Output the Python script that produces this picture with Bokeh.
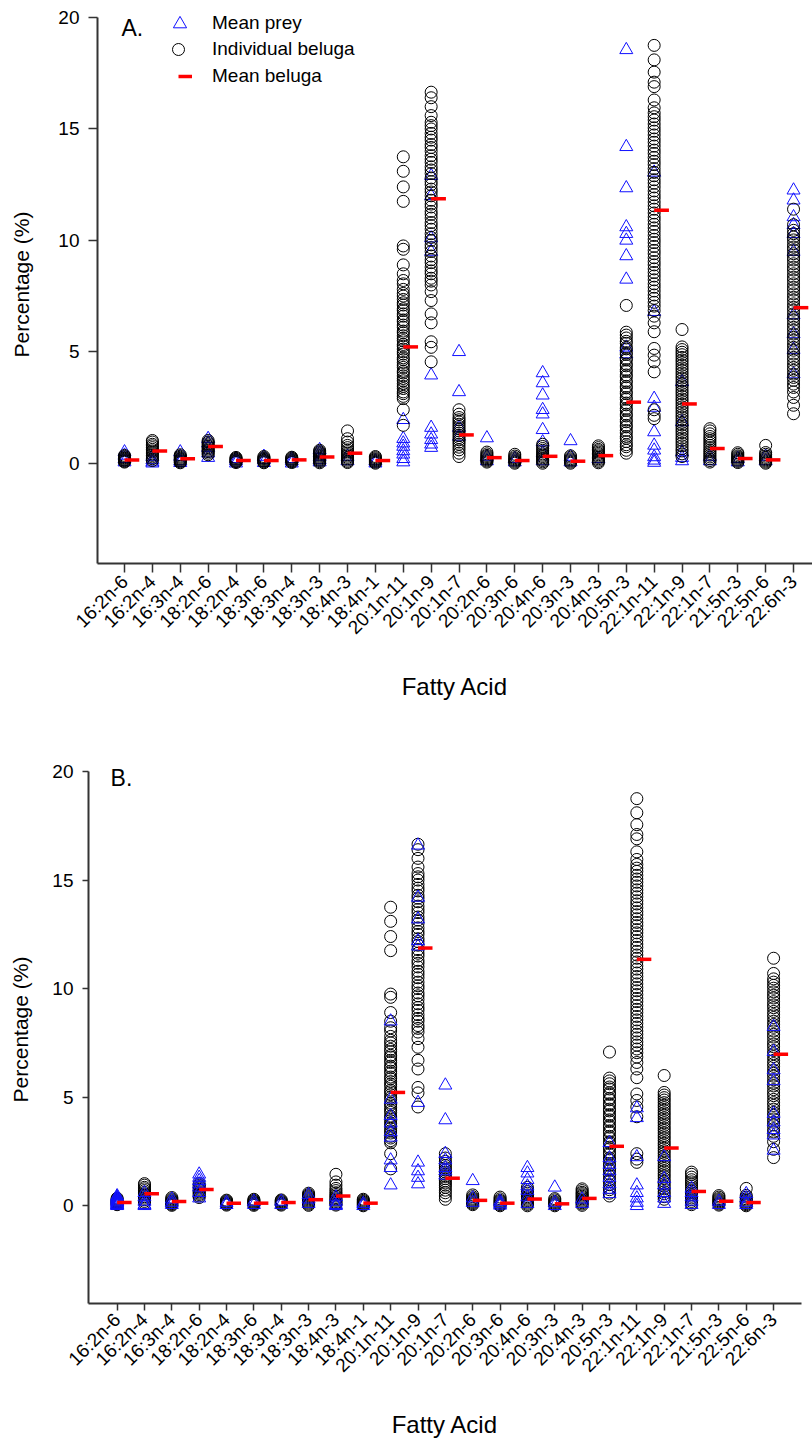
import math
from bokeh.plotting import figure
from bokeh.models import ColumnDataSource, FixedTicker, Range1d, Legend, LegendItem, Label
from bokeh.layouts import column, row
from bokeh.embed import file_html
from bokeh.resources import INLINE

# ---------------- data ----------------
categories = ["16:2n-6", "16:2n-4", "16:3n-4", "18:2n-6", "18:2n-4", "18:3n-6", "18:3n-4",
              "18:3n-3", "18:4n-3", "18:4n-1", "20:1n-11", "20:1n-9", "20:1n-7", "20:2n-6",
              "20:3n-6", "20:4n-6", "20:3n-3", "20:4n-3", "20:5n-3", "22:1n-11", "22:1n-9",
              "22:1n-7", "21:5n-3", "22:5n-6", "22:6n-3"]

mean_beluga = [0.15, 0.55, 0.2, 0.75, 0.12, 0.12, 0.15, 0.28, 0.45, 0.12, 5.22, 11.87, 1.27,
               0.25, 0.12, 0.31, 0.09, 0.34, 2.74, 11.35, 2.66, 0.66, 0.21, 0.15, 6.98]

# individual beluga values (same animals in both panels)
b_16_2n6 = [0.05, 0.08, 0.12, 0.15, 0.18, 0.22, 0.25, 0.3, 0.35]
b_16_2n4 = [0.12, 0.2, 0.28, 0.35, 0.42, 0.5, 0.55, 0.62, 0.7, 0.78, 0.85, 0.95, 1.02]
b_16_3n4 = [0.02, 0.06, 0.1, 0.14, 0.18, 0.22, 0.27, 0.32, 0.38]
b_18_2n6 = [0.38, 0.45, 0.52, 0.58, 0.64, 0.7, 0.76, 0.82, 0.88, 0.95, 1.02]
b_18_2n4 = [0.03, 0.07, 0.1, 0.14, 0.18, 0.22, 0.26]
b_18_3n6 = [0.02, 0.06, 0.1, 0.13, 0.17, 0.21, 0.25, 0.3]
b_18_3n4 = [0.03, 0.07, 0.11, 0.15, 0.19, 0.23, 0.27]
b_18_3n3 = [0.02, 0.07, 0.12, 0.17, 0.22, 0.27, 0.32, 0.37, 0.42, 0.47, 0.52, 0.58]
b_18_4n3 = [0.03, 0.08, 0.14, 0.2, 0.26, 0.32, 0.38, 0.45, 0.52, 0.6, 0.7, 0.8, 0.95, 1.1, 1.45]
b_18_4n1 = [0.0, 0.04, 0.08, 0.12, 0.16, 0.2, 0.25, 0.3]
b_20_1n11 = [1.7, 2.4, 2.9, 3.0, 3.12, 3.2, 3.35, 3.45, 3.57, 3.7, 3.8, 3.92, 4.05, 4.13, 4.3,
             4.4, 4.52, 4.65, 4.73, 4.9, 5.0, 5.12, 5.25, 5.33, 5.5, 5.6, 5.72, 5.85, 5.93, 6.1,
             6.2, 6.35, 6.43, 6.6, 6.7, 6.85, 6.93, 7.1, 7.2, 7.35, 7.5, 7.62, 7.8, 8.05, 8.2,
             8.5, 8.9, 9.6, 9.75, 11.75, 12.4, 13.1, 13.75]
b_20_1n9 = [4.55, 5.2, 5.45, 6.3, 6.7, 7.3, 7.7, 8.0, 8.17, 8.3, 8.5, 8.63, 8.8, 9.0, 9.13,
            9.3, 9.5, 9.67, 9.8, 10.0, 10.13, 10.3, 10.5, 10.66, 10.8, 11.0, 11.17, 11.3, 11.5,
            11.63, 11.8, 12.0, 12.17, 12.3, 12.5, 12.63, 12.8, 13.0, 13.16, 13.3, 13.5, 13.64,
            13.8, 14.0, 14.17, 14.3, 14.5, 14.63, 14.8, 15.0, 15.15, 15.3, 15.6, 16.0, 16.4, 16.65]
b_20_1n7 = [0.3, 0.45, 0.6, 0.72, 0.85, 0.95, 1.05, 1.15, 1.25, 1.35, 1.45, 1.55, 1.65, 1.75,
            1.85, 1.95, 2.05, 2.2, 2.4]
b_20_2n6 = [0.05, 0.1, 0.15, 0.2, 0.25, 0.3, 0.35, 0.42, 0.5]
b_20_3n6 = [0.0, 0.05, 0.1, 0.15, 0.2, 0.25, 0.32, 0.4]
b_20_4n6 = [0.0, 0.06, 0.12, 0.18, 0.24, 0.3, 0.36, 0.42, 0.5, 0.58, 0.66, 0.75, 0.85]
b_20_3n3 = [0.0, 0.05, 0.1, 0.15, 0.2, 0.27, 0.33]
b_20_4n3 = [0.02, 0.08, 0.14, 0.2, 0.26, 0.32, 0.38, 0.44, 0.5, 0.56, 0.62, 0.7, 0.78]
b_20_5n3 = [0.45, 0.58, 0.74, 0.83, 0.97, 1.12, 1.2, 1.36, 1.47, 1.63, 1.7, 1.86, 1.95, 2.12,
            2.2, 2.37, 2.46, 2.62, 2.7, 2.87, 2.95, 3.12, 3.2, 3.38, 3.45, 3.62, 3.7, 3.88,
            3.96, 4.12, 4.2, 4.37, 4.45, 4.63, 4.7, 4.88, 4.95, 5.13, 5.2, 5.38, 5.47, 5.62,
            5.75, 5.88, 7.08]
b_22_1n11 = [2.0, 2.15, 2.4, 4.1, 4.55, 4.85, 5.15, 5.9, 6.3, 6.6, 6.85, 7.05, 7.22, 7.4, 7.55,
             7.73, 7.9, 8.05, 8.23, 8.4, 8.56, 8.72, 8.9, 9.05, 9.22, 9.4, 9.55, 9.73, 9.9,
             10.05, 10.22, 10.4, 10.56, 10.72, 10.9, 11.05, 11.23, 11.4, 11.55, 11.72, 11.9,
             12.05, 12.22, 12.4, 12.57, 12.72, 12.9, 13.05, 13.22, 13.4, 13.55, 13.72, 13.9,
             14.05, 14.23, 14.4, 14.55, 14.73, 14.9, 15.05, 15.22, 15.4, 15.55, 15.72, 15.95,
             16.3, 16.9, 17.1, 17.55, 18.1, 18.75]
b_22_1n9 = [0.3, 0.42, 0.55, 0.65, 0.78, 0.9, 1.02, 1.13, 1.25, 1.37, 1.48, 1.6, 1.72, 1.83,
            1.95, 2.07, 2.18, 2.3, 2.42, 2.53, 2.65, 2.77, 2.88, 3.0, 3.12, 3.23, 3.35, 3.47,
            3.58, 3.7, 3.82, 3.93, 4.05, 4.17, 4.28, 4.4, 4.52, 4.63, 4.75, 4.87, 4.98, 5.1,
            5.22, 6.0]
b_22_1n7 = [0.05, 0.12, 0.2, 0.28, 0.36, 0.44, 0.52, 0.6, 0.7, 0.8, 0.9, 1.0, 1.1, 1.2, 1.32,
            1.45, 1.55]
b_21_5n3 = [0.03, 0.08, 0.13, 0.18, 0.23, 0.28, 0.33, 0.4, 0.47]
b_22_5n6 = [0.0, 0.05, 0.1, 0.15, 0.2, 0.26, 0.32, 0.4, 0.48, 0.8]
b_22_6n3 = [2.22, 2.6, 2.95, 3.2, 3.4, 3.55, 3.72, 3.85, 4.0, 4.17, 4.3, 4.45, 4.62, 4.75, 4.9,
            5.07, 5.2, 5.35, 5.52, 5.65, 5.8, 5.97, 6.1, 6.25, 6.42, 6.55, 6.7, 6.87, 7.0,
            7.15, 7.32, 7.45, 7.6, 7.77, 7.9, 8.05, 8.22, 8.35, 8.5, 8.67, 8.8, 8.95, 9.12,
            9.25, 9.4, 9.57, 9.7, 9.85, 10.02, 10.15, 10.3, 10.45, 10.7, 11.4]

# mean prey, panel A
pa_16_2n6 = [0.5, 0.35, 0.2, 0.05]
pa_16_2n4 = [0.3, 0.15, 0.05, 0.0]
pa_16_3n4 = [0.5, 0.3, 0.1, 0.02]
pa_18_2n6 = [1.1, 0.9, 0.7, 0.45, 0.25]
pa_18_2n4 = [0.2, 0.1, 0.0]
pa_18_3n6 = [0.3, 0.15, 0.02]
pa_18_3n4 = [0.2, 0.1, 0.0]
pa_18_3n3 = [0.6, 0.45, 0.3, 0.15, 0.05]
pa_18_4n3 = [0.3, 0.1]
pa_18_4n1 = [0.1, 0.0]
pa_20_1n11 = [1.95, 1.1, 0.9, 0.75, 0.55, 0.4, 0.2, 0.05]
pa_20_1n9 = [12.9, 12.0, 10.1, 9.5, 3.95, 1.6, 1.3, 1.05, 0.85, 0.7]
pa_20_1n7 = [5.0, 3.2, 1.6, 1.2]
pa_20_2n6 = [1.13, 0.3, 0.1]
pa_20_3n6 = [0.2, 0.05]
pa_20_4n6 = [4.05, 3.6, 3.05, 2.4, 2.2, 1.5, 0.95, 0.45, 0.1]
pa_20_3n3 = [1.0, 0.3, 0.05]
pa_20_4n3 = [0.2]
pa_20_5n3 = [18.55, 14.2, 12.35, 10.6, 10.3, 10.0, 9.3, 8.25, 5.2, 4.9]
pa_22_1n11 = [13.05, 6.8, 2.9, 2.5, 1.4, 0.8, 0.58, 0.28, 0.13, 0.03]
pa_22_1n9 = [3.65, 1.85, 0.5, 0.25, 0.1]
pa_22_1n7 = [0.3, 0.1]
pa_21_5n3 = [0.2, 0.05]
pa_22_5n6 = [0.3, 0.1]
pa_22_6n3 = [12.25, 11.8, 11.05, 10.7, 10.3, 9.5, 6.65, 5.8, 5.1, 4.0]

# mean prey, panel B
pb_16_2n6 = [0.45, 0.4, 0.35, 0.3, 0.25, 0.2, 0.16, 0.12, 0.08, 0.05, 0.02, 0.0]
pb_16_2n4 = [0.6, 0.4, 0.2, 0.05, 0.0]
pb_16_3n4 = [0.3, 0.15, 0.05]
pb_18_2n6 = [1.45, 1.3, 1.15, 1.0, 0.85, 0.6, 0.35]
pb_18_2n4 = [0.15, 0.05]
pb_18_3n6 = [0.2, 0.05]
pb_18_3n4 = [0.2, 0.05]
pb_18_3n3 = [0.5, 0.3, 0.1]
pb_18_4n3 = [0.4, 0.2, 0.05, 0.0]
pb_18_4n1 = [0.1, 0.0]
pb_20_1n11 = [8.5, 4.9, 4.15, 3.8, 3.4, 3.15, 2.1, 1.75, 0.95]
pb_20_1n9 = [16.6, 14.2, 13.2, 12.2, 11.95, 4.75, 2.0, 1.6, 1.3, 1.0]
pb_20_1n7 = [5.55, 3.95, 2.4, 2.1, 1.75, 1.6, 1.4]
pb_20_2n6 = [1.15, 0.35, 0.15]
pb_20_3n6 = [0.2, 0.1, 0.02]
pb_20_4n6 = [1.75, 1.5, 1.2, 0.9, 0.7, 0.4, 0.1]
pb_20_3n3 = [0.85, 0.15, 0.0]
pb_20_4n3 = [0.3, 0.1]
pb_20_5n3 = [2.9, 2.2, 1.9, 1.6, 1.3, 1.0, 0.75, 0.55]
pb_22_1n11 = [4.5, 4.05, 2.25, 0.95, 0.6, 0.35, 0.15, 0.0]
pb_22_1n9 = [2.25, 1.25, 0.95, 0.6, 0.35, 0.1]
pb_22_1n7 = [0.8, 0.6, 0.4, 0.2, 0.05]
pb_21_5n3 = [0.2, 0.05]
pb_22_5n6 = [0.55, 0.35, 0.15, 0.05]
pb_22_6n3 = [8.25, 7.1, 6.25, 5.75, 4.25, 3.85, 3.5, 3.25, 2.55]

beluga_lists = [b_16_2n6, b_16_2n4, b_16_3n4, b_18_2n6, b_18_2n4, b_18_3n6, b_18_3n4, b_18_3n3,
                b_18_4n3, b_18_4n1, b_20_1n11, b_20_1n9, b_20_1n7, b_20_2n6, b_20_3n6, b_20_4n6,
                b_20_3n3, b_20_4n3, b_20_5n3, b_22_1n11, b_22_1n9, b_22_1n7, b_21_5n3, b_22_5n6,
                b_22_6n3]
prey_a_lists = [pa_16_2n6, pa_16_2n4, pa_16_3n4, pa_18_2n6, pa_18_2n4, pa_18_3n6, pa_18_3n4,
                pa_18_3n3, pa_18_4n3, pa_18_4n1, pa_20_1n11, pa_20_1n9, pa_20_1n7, pa_20_2n6,
                pa_20_3n6, pa_20_4n6, pa_20_3n3, pa_20_4n3, pa_20_5n3, pa_22_1n11, pa_22_1n9,
                pa_22_1n7, pa_21_5n3, pa_22_5n6, pa_22_6n3]
prey_b_lists = [pb_16_2n6, pb_16_2n4, pb_16_3n4, pb_18_2n6, pb_18_2n4, pb_18_3n6, pb_18_3n4,
                pb_18_3n3, pb_18_4n3, pb_18_4n1, pb_20_1n11, pb_20_1n9, pb_20_1n7, pb_20_2n6,
                pb_20_3n6, pb_20_4n6, pb_20_3n3, pb_20_4n3, pb_20_5n3, pb_22_1n11, pb_22_1n9,
                pb_22_1n7, pb_21_5n3, pb_22_5n6, pb_22_6n3]

y_ticks = [0, 5, 10, 15, 20]
Y_MIN, Y_MAX = -4.5, 20

# ---------------- styling ----------------
FONT = "Liberation Sans"
DASH_LEN = 0.53
BLUE = "#1010FF"


def flatten(lists):
    xs, ys = [], []
    for i, vals in enumerate(lists):
        xs.extend([i] * len(vals))
        ys.extend(vals)
    return ColumnDataSource(dict(x=xs, y=ys))


def make_panel(prey_lists, letter, letter_pos, x_rng, y_top, border_left, border_right,
               border_top, frame_h, height, ytick_out, ylab_standoff, xtick_out,
               xlab_standoff, prey_on_top, with_legend):
    p = figure(width=812, height=height, x_range=Range1d(*x_rng),
               y_range=Range1d(Y_MIN, y_top),
               output_backend="svg", toolbar_location=None,
               min_border_left=border_left, min_border_right=border_right,
               min_border_top=border_top, min_border_bottom=height - border_top - frame_h)
    p.outline_line_color = None
    p.xgrid.visible = False
    p.ygrid.visible = False

    bel_src = flatten(beluga_lists)
    prey_src = flatten(prey_lists)
    idx = list(range(len(categories)))
    mean_src = ColumnDataSource(dict(x0=idx, x1=[i + DASH_LEN for i in idx], y=mean_beluga))

    def draw_prey():
        return p.scatter("x", "y", source=prey_src, marker="triangle", size=13,
                         line_color=BLUE, line_width=1, fill_color=None)

    def draw_bel():
        return p.scatter("x", "y", source=bel_src, marker="circle", size=12,
                         line_color="black", line_width=1, fill_color=None)

    if prey_on_top:
        r_bel = draw_bel()
        r_prey = draw_prey()
    else:
        r_prey = draw_prey()
        r_bel = draw_bel()
    r_mean = p.segment(x0="x0", y0="y", x1="x1", y1="y", source=mean_src,
                       line_color="#FF0000", line_width=3.5)

    # axes
    for ax in (p.xaxis, p.yaxis):
        ax.axis_line_color = "#333333"
        ax.axis_line_width = 2
        ax.major_tick_line_color = "#333333"
        ax.major_tick_line_width = 1.5
        ax.minor_tick_line_color = None
        ax.major_tick_in = 0
        ax.major_label_text_font = FONT
        ax.major_label_text_font_size = "19px"
        ax.major_label_text_color = "black"
        ax.axis_label_text_font = FONT
        ax.axis_label_text_font_style = "normal"
        ax.axis_label_text_color = "black"

    p.yaxis.ticker = FixedTicker(ticks=y_ticks)
    p.yaxis.bounds = (Y_MIN, Y_MAX)
    p.yaxis.major_tick_out = ytick_out
    p.yaxis.major_label_standoff = 9
    p.yaxis.axis_label = "Percentage (%)"
    p.yaxis.axis_label_text_font_size = "21px"
    p.yaxis.axis_label_standoff = ylab_standoff

    p.xaxis.ticker = FixedTicker(ticks=idx)
    p.xaxis.major_label_overrides = {i: c for i, c in enumerate(categories)}
    p.xaxis.major_label_orientation = math.pi / 4
    p.xaxis.major_tick_out = xtick_out
    p.xaxis.major_label_standoff = 6
    p.xaxis.axis_label = "Fatty Acid"
    p.xaxis.axis_label_text_font_size = "24px"
    p.xaxis.axis_label_standoff = xlab_standoff

    p.add_layout(Label(x=letter_pos[0], y=letter_pos[1], text=letter, text_font=FONT,
                       text_font_size="23px", text_color="black",
                       text_baseline="alphabetic"))

    if with_legend:
        fh = frame_h
        # (label, renderer, glyph w, glyph h, x offset from frame left, row centre y, standoff)
        specs = [("Mean prey", r_prey, 33, 33, 66, 22, 16),
                 ("Individual beluga", r_bel, 30, 30, 66, 48, 19),
                 ("Mean beluga", r_mean, 14, 26, 81, 75, 20)]
        for text, rend, gw, gh, vx, yc, standoff in specs:
            vy = fh - (yc - border_top + gh / 2.0) - 1
            leg = Legend(items=[LegendItem(label=text, renderers=[rend])],
                         location=(vx, vy), orientation="vertical", margin=0, padding=0,
                         spacing=0, glyph_width=gw, glyph_height=gh, label_height=gh,
                         label_standoff=standoff, label_text_font=FONT,
                         label_text_font_size="19px", label_text_color="black",
                         border_line_color=None, background_fill_alpha=0)
            p.add_layout(leg)
    return p


# panel A: frame 5..563 px (y = 20 sits at 17 px), panel B: frame 755..1303 px (y = 20 at 771)
p1 = make_panel(prey_a_lists, "A.", (-0.108, 19.51), (-0.969, 24.68), 20.54,
                97, 0, 5, 558, 720, 9, 22, 9, 25, prey_on_top=False, with_legend=True)
p2 = make_panel(prey_b_lists, "B.", (-0.24, 19.68), (-1.046, 25.02), 20.737,
                88, 11, 35, 548, 721, 6, 17, 7, 25, prey_on_top=True, with_legend=False)

layout = column(p1, row(p2), spacing=0)
open("out.html", "w").write(file_html(layout, INLINE))
